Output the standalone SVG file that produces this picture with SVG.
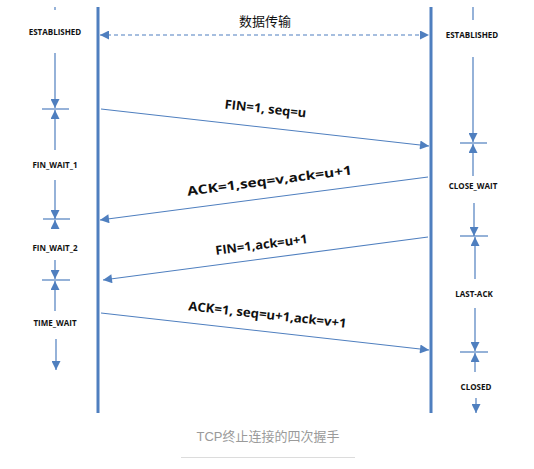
<svg xmlns="http://www.w3.org/2000/svg" width="534" height="469" viewBox="0 0 534 469">
<style>
.life{stroke:#4f7fbf;stroke-width:3;fill:none}
.tl{stroke:#4f7fbf;stroke-width:1.2;fill:none}
.msg{stroke:#4f7fbf;stroke-width:1.1;fill:none}
.st{font-family:"Open Sans","Noto Sans",sans-serif;font-weight:bold;font-size:8px;fill:#111;text-anchor:middle}
.ml{font-family:"Open Sans","Noto Sans",sans-serif;font-weight:bold;font-size:12.5px;fill:#111;text-anchor:middle}
.cap{font-family:"Liberation Sans","Noto Sans CJK SC",sans-serif;font-size:13px;fill:#9a9a9a;text-anchor:middle}
.cjk{font-family:"Noto Sans CJK SC",sans-serif;font-size:13px;fill:#111;text-anchor:middle}
</style>
<defs>
<marker id="ah" viewBox="0 0 10 10" refX="10" refY="5" markerWidth="10" markerHeight="9" markerUnits="userSpaceOnUse" orient="auto-start-reverse">
<path d="M0,0 L10,5 L0,10 Z" fill="#4f7fbf"/>
</marker>
</defs>
<rect width="534" height="469" fill="#fff"/>
<g id="lifelines">
<line class="life" x1="98" y1="7" x2="98" y2="413"/>
<line class="life" x1="431" y1="7" x2="431" y2="413"/>
</g>
<g id="client-states">
<g id="c-established"><line class="tl" x1="55" y1="7" x2="55" y2="10"/><text class="st" x="55" y="35">ESTABLISHED</text><line class="tl" x1="55" y1="53" x2="55" y2="108" marker-end="url(#ah)"/></g>
<line class="tl" x1="42" y1="109" x2="69" y2="109"/>
<g id="c-fin1"><line class="tl" x1="55" y1="150" x2="55" y2="110" marker-end="url(#ah)"/><text class="st" x="55" y="168">FIN_WAIT_1</text><line class="tl" x1="55" y1="180" x2="55" y2="219" marker-end="url(#ah)"/></g>
<line class="tl" x1="43" y1="219" x2="70" y2="219"/>
<g id="c-fin2"><line class="tl" x1="55" y1="228" x2="55" y2="220" marker-end="url(#ah)"/><text class="st" x="55" y="251">FIN_WAIT_2</text><line class="tl" x1="55" y1="260" x2="55" y2="279" marker-end="url(#ah)"/></g>
<line class="tl" x1="42" y1="280" x2="70" y2="280"/>
<g id="c-timewait"><line class="tl" x1="55" y1="311" x2="55" y2="281" marker-end="url(#ah)"/><text class="st" x="55" y="326">TIME_WAIT</text><line class="tl" x1="56" y1="339" x2="56" y2="370" marker-end="url(#ah)"/></g>
</g>
<g id="server-states">
<g id="s-established"><line class="tl" x1="473" y1="7" x2="473" y2="20"/><text class="st" x="472" y="38">ESTABLISHED</text><line class="tl" x1="473" y1="57" x2="473" y2="142" marker-end="url(#ah)"/></g>
<line class="tl" x1="460" y1="143" x2="487" y2="143"/>
<g id="s-closewait"><line class="tl" x1="473" y1="176" x2="473" y2="144" marker-end="url(#ah)"/><text class="st" x="473" y="189">CLOSE_WAIT</text><line class="tl" x1="474" y1="203" x2="474" y2="236" marker-end="url(#ah)"/></g>
<line class="tl" x1="460" y1="236" x2="488" y2="236"/>
<g id="s-lastack"><line class="tl" x1="475" y1="279" x2="475" y2="237" marker-end="url(#ah)"/><text class="st" x="474" y="297">LAST-ACK</text><line class="tl" x1="475" y1="308" x2="475" y2="351" marker-end="url(#ah)"/></g>
<line class="tl" x1="460" y1="352" x2="488" y2="352"/>
<g id="s-closed"><line class="tl" x1="475" y1="372" x2="475" y2="353" marker-end="url(#ah)"/><text class="st" x="476" y="390">CLOSED</text><line class="tl" x1="476" y1="398" x2="476" y2="413" marker-end="url(#ah)"/></g>
</g>
<g id="connectors">
<line class="msg" x1="100" y1="35" x2="429" y2="35" stroke-dasharray="4,3" marker-start="url(#ah)" marker-end="url(#ah)"/>
<line class="msg" x1="101" y1="109" x2="429" y2="146" marker-end="url(#ah)"/>
<line class="msg" x1="428" y1="177" x2="100" y2="220" marker-end="url(#ah)"/>
<line class="msg" x1="428" y1="237" x2="103" y2="280" marker-end="url(#ah)"/>
<line class="msg" x1="101" y1="313" x2="429" y2="350" marker-end="url(#ah)"/>
</g>
<g id="labels">
<text class="cjk" x="265" y="26">数据传输</text>
<text class="ml" transform="translate(265,113) rotate(6.4)" textLength="82" lengthAdjust="spacingAndGlyphs">FIN=1, seq=u</text>
<text class="ml" transform="translate(270,185) rotate(-7.4)" textLength="166" lengthAdjust="spacingAndGlyphs">ACK=1,seq=v,ack=u+1</text>
<text class="ml" transform="translate(262,249) rotate(-7.4)" textLength="93" lengthAdjust="spacingAndGlyphs">FIN=1,ack=u+1</text>
<text class="ml" transform="translate(267,319) rotate(6.4)" textLength="159" lengthAdjust="spacingAndGlyphs">ACK=1, seq=u+1,ack=v+1</text>
</g>
<g id="caption">
<text class="cap" x="268" y="441">TCP终止连接的四次握手</text>
<line x1="181" y1="457.5" x2="355" y2="457.5" stroke="#dcdcdc" stroke-width="1"/>
</g>
</svg>
